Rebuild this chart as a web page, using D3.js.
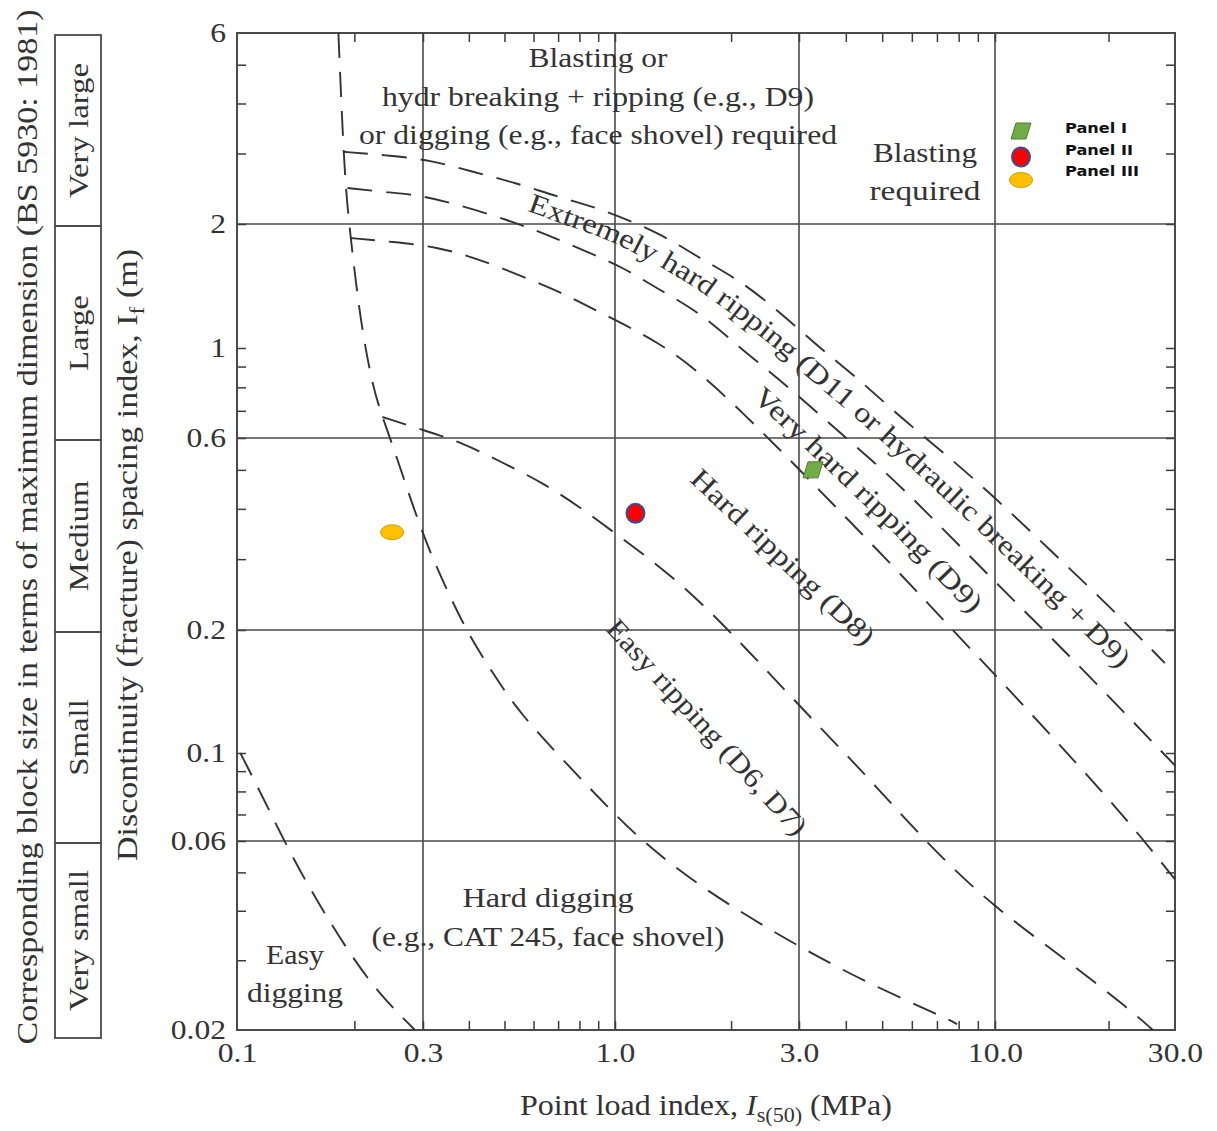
<!DOCTYPE html>
<html>
<head>
<meta charset="utf-8">
<script src="https://cdn.jsdelivr.net/npm/d3@7"></script>
<style>
  html, body { margin: 0; padding: 0; background: #fff; }
  svg { display: block; }
  .serif { font-family: "Liberation Serif", "DejaVu Serif", serif; fill: #333; }
</style>
</head>
<body>
<script>
// ---- Axis definitions -------------------------------------------------------
const xTickValues = [0.1, 0.3, 1, 3, 10, 30];
const xTickLabels = ["0.1", "0.3", "1.0", "3.0", "10.0", "30.0"];
const yTickValues = [6, 2, 1, 0.6, 0.2, 0.1, 0.06, 0.02];
const yTickLabels = ["6", "2", "1", "0.6", "0.2", "0.1", "0.06", "0.02"];
const xGridValues = [0.3, 1, 3, 10];
const yGridValues = [2, 0.6, 0.2, 0.06];

// Block size classes (BS 5930: 1981) and their spacing bounds (m)
const blockClasses = ["Very large", "Large", "Medium", "Small", "Very small"];
const blockBounds = [6, 2, 0.6, 0.2, 0.06, 0.02];

// ---- Boundary curves: [point load index (MPa), fracture spacing index (m)] --
const easyDiggingLimit = [[0.102,0.1],[0.116,0.078],[0.13,0.062],[0.149,0.048],[0.173,0.0375],[0.2,0.03],[0.233,0.0245],[0.286,0.02]];
const rippingLimit = [[0.182,6],[0.186,3.64],[0.19,2.43],[0.196,1.83],[0.207,1.17],[0.223,0.80],[0.236,0.676],[0.257,0.538],[0.283,0.404],[0.314,0.311],[0.355,0.242],[0.403,0.192],[0.471,0.154],[0.551,0.125],[0.722,0.096],[0.969,0.072],[1.18,0.0598],[1.66,0.0459],[2.79,0.0337],[4.55,0.0263],[7.27,0.0216],[7.92,0.0207]];
const hardRippingLimit = [[0.236,0.676],[0.30,0.628],[0.386,0.583],[0.496,0.52],[0.637,0.464],[0.803,0.404],[1.0,0.348],[1.49,0.262],[2.17,0.182],[3.09,0.127],[4.58,0.087],[6.71,0.058],[9.88,0.041],[15.5,0.030],[22.8,0.0225],[26.2,0.02]];
const veryHardRippingLimit = [[0.195,1.85],[0.251,1.81],[0.328,1.76],[0.421,1.65],[0.551,1.50],[0.708,1.37],[0.91,1.22],[1.31,1.03],[1.66,0.868],[2.11,0.703],[2.68,0.56],[3.07,0.491],[5.58,0.277],[7.59,0.203],[10.3,0.151],[14.0,0.111],[19.0,0.081],[24.2,0.062],[30,0.048]];
const extremeRippingLimit = [[0.192,2.46],[0.243,2.40],[0.295,2.36],[0.378,2.23],[0.508,2.05],[0.637,1.90],[0.818,1.73],[1.05,1.57],[1.31,1.38],[1.66,1.22],[2.11,1.0],[2.68,0.834],[3.41,0.684],[4.36,0.56],[5.58,0.459],[9.88,0.266],[15.5,0.176],[30,0.093]];
const blastingLimit = [[0.187,3.03],[0.243,2.97],[0.314,2.89],[0.41,2.70],[0.541,2.53],[0.695,2.34],[0.91,2.19],[1.31,1.90],[1.66,1.65],[2.11,1.46],[2.68,1.22],[3.41,1.0],[4.36,0.834],[5.58,0.676],[7.31,0.551],[9.70,0.438],[14.0,0.316],[20.2,0.228],[28.2,0.166]];

// ---- Measured panels ---------------------------------------------------------
const panelNames = ["Panel I", "Panel II", "Panel III"];
const panelIs50 = [3.27, 1.13, 0.25];
const panelIf = [0.50, 0.39, 0.35];

// ---- Scales ------------------------------------------------------------------
const W = 1217, H = 1131;
const x = d3.scaleLog().domain(xTickValues).range([237, 423, 615, 799, 995, 1175]);
const y = d3.scaleLog().domain(yTickValues).range([33, 224, 348, 438, 630, 753, 841, 1030]);
const x0 = x(0.1), x1 = x(30), y0 = y(6), y1 = y(0.02);

const svg = d3.select("body").append("svg").attr("width", W).attr("height", H);
svg.append("rect").attr("width", W).attr("height", H).attr("fill", "#fff");

const ink = "#3c3c3c";

// stretch a serif text horizontally so its face reads like a book serif
function widen(sel, factor) {
  sel.each(function () {
    const w = this.getComputedTextLength();
    d3.select(this).attr("textLength", w * factor).attr("lengthAdjust", "spacingAndGlyphs");
  });
}

// minor log ticks (k * 10^n) inside the frame
const minorX = [], minorY = [];
[0.1, 1, 10].forEach(d => d3.range(1, 10).forEach(k => {
  const v = +(k * d).toPrecision(3);
  if (v > 0.1 && v < 30) minorX.push(v);
}));
[0.01, 0.1, 1].forEach(d => d3.range(1, 10).forEach(k => {
  const v = +(k * d).toPrecision(3);
  if (v > 0.02 && v < 6) minorY.push(v);
}));

// ---- Grid -------------------------------------------------------------------
const grid = svg.append("g").attr("stroke", "#4a4a4a").attr("stroke-width", 1.6);
grid.selectAll(".gx").data(xGridValues).join("line")
  .attr("x1", d => x(d)).attr("x2", d => x(d)).attr("y1", y0).attr("y2", y1);
grid.selectAll(".gy").data(yGridValues).join("line")
  .attr("y1", d => y(d)).attr("y2", d => y(d)).attr("x1", x0).attr("x2", x1);

// inner ticks on all four sides
function innerTicks(axis, tx, ty) {
  const g = svg.append("g").attr("transform", `translate(${tx},${ty})`).call(axis);
  g.select(".domain").remove();
  g.selectAll("line").attr("stroke", ink).attr("stroke-width", 1.5);
}
innerTicks(d3.axisBottom(x).tickValues(minorX).tickSize(-9).tickFormat(""), 0, y1);
innerTicks(d3.axisTop(x).tickValues(minorX).tickSize(-9).tickFormat(""), 0, y0);
innerTicks(d3.axisLeft(y).tickValues(minorY).tickSize(-9).tickFormat(""), x0, 0);
innerTicks(d3.axisRight(y).tickValues(minorY).tickSize(-9).tickFormat(""), x1, 0);

// frame
svg.append("rect").attr("x", x0).attr("y", y0).attr("width", x1 - x0).attr("height", y1 - y0)
  .attr("fill", "none").attr("stroke", "#4a4a4a").attr("stroke-width", 2);

// tick labels
const yAxis = svg.append("g").attr("transform", `translate(${x0},0)`)
  .call(d3.axisLeft(y).tickValues(yTickValues).tickSize(0).tickPadding(11)
    .tickFormat((d, i) => yTickLabels[i]));
yAxis.select(".domain").remove();
yAxis.selectAll("text").attr("class", "serif").attr("font-size", 27).attr("fill", "#333").call(widen, 1.17);

const xAxis = svg.append("g").attr("transform", `translate(0,${y1})`)
  .call(d3.axisBottom(x).tickValues(xTickValues).tickSize(0).tickPadding(13)
    .tickFormat((d, i) => xTickLabels[i]));
xAxis.select(".domain").remove();
xAxis.selectAll("text").attr("class", "serif").attr("font-size", 27).attr("fill", "#333").call(widen, 1.17);

// ---- Boundary curves ---------------------------------------------------------
const line = d3.line().x(d => x(d[0])).y(d => y(d[1])).curve(d3.curveBasis);
const curves = [easyDiggingLimit, rippingLimit, hardRippingLimit, veryHardRippingLimit, extremeRippingLimit, blastingLimit];
svg.append("g").selectAll("path").data(curves).join("path")
  .attr("d", line).attr("fill", "none").attr("stroke", "#333").attr("stroke-width", 1.9)
  .attr("stroke-dasharray", "25,14");

// ---- Zone labels --------------------------------------------------------------
function serifText(lines, cx, cy, size, lens, lh) {
  lines.forEach((t, i) => {
    svg.append("text").attr("class", "serif").attr("font-size", size)
      .attr("x", cx).attr("y", cy + i * lh).attr("text-anchor", "middle")
      .attr("textLength", lens[i]).attr("lengthAdjust", "spacingAndGlyphs").text(t);
  });
}
serifText(["Blasting or", "hydr breaking + ripping (e.g., D9)", "or digging (e.g., face shovel) required"],
  598, 67, 28, [139, 432, 478], 38.5);
serifText(["Blasting", "required"], 925, 162, 28, [104, 111], 38);
serifText(["Hard digging", "(e.g., CAT 245, face shovel)"], 548, 907, 28, [171, 353], 39);
serifText(["Easy", "digging"], 295, 964, 28, [58, 96], 38);

// labels set along a guide path; a label may be split into runs on the same path
function pixelPts(data) { return data.map(d => [x(d[0]), y(d[1])]); }
function yAtX(pts, px) {
  for (let i = 0; i < pts.length - 1; i++) {
    if (px >= pts[i][0] && px <= pts[i + 1][0]) {
      const t = (px - pts[i][0]) / (pts[i + 1][0] - pts[i][0]);
      return pts[i][1] + t * (pts[i + 1][1] - pts[i][1]);
    }
  }
  return pts[pts.length - 1][1];
}
const guideLine = d3.line().curve(d3.curveBasis);
const measure = svg.append("text").attr("class", "serif").attr("font-size", 28).attr("opacity", 0);
function pathLabel(id, guide, runs) {
  const p = svg.append("path").attr("id", id).attr("d", guideLine(guide)).attr("fill", "none");
  const len = p.node().getTotalLength();
  const label = runs.join(" ");
  measure.text(label);
  const node = measure.node();
  const k = len / node.getComputedTextLength();
  let pos = 0;
  runs.forEach(run => {
    const w = node.getSubStringLength(pos, run.length);
    const off = pos > 0 ? node.getSubStringLength(0, pos) : 0;
    svg.append("text").attr("class", "serif").attr("font-size", 28)
      .append("textPath").attr("href", "#" + id)
      .attr("startOffset", off * k)
      .attr("dominant-baseline", "central")
      .attr("textLength", w * k).attr("lengthAdjust", "spacingAndGlyphs")
      .text(run);
    pos += run.length + 1;
  });
}
function bandGuide(upper, lower, pxStart, pxEnd, shift) {
  const a = pixelPts(upper), b = pixelPts(lower);
  return d3.range(pxStart, pxEnd + 0.1, 4).map(px => [px, (yAtX(a, px) + yAtX(b, px)) / 2 + shift]);
}
function straightGuide(cx, cy, angle, len) {
  const r = angle * Math.PI / 180, hx = Math.cos(r) * len / 2, hy = Math.sin(r) * len / 2;
  return [[cx - hx, cy - hy], [cx + hx, cy + hy]];
}
pathLabel("g-extreme", bandGuide(blastingLimit, extremeRippingLimit, 530, 1128, -6),
  ["Extremely hard ripping", "(D11 or hydraulic breaking + D9)"]);
pathLabel("g-veryhard", bandGuide(extremeRippingLimit, veryHardRippingLimit, 758, 980, -3),
  ["Very hard ripping (D9)"]);
pathLabel("g-hard", straightGuide(783, 557, 43.5, 242), ["Hard ripping (D8)"]);
pathLabel("g-easy", straightGuide(707, 727, 47.5, 282), ["Easy ripping (D6, D7)"]);
measure.remove();

// ---- Axis titles ---------------------------------------------------------------
const xt = svg.append("text").attr("class", "serif").attr("font-size", 29)
  .attr("x", 706).attr("y", 1115).attr("text-anchor", "middle")
  .attr("textLength", 372).attr("lengthAdjust", "spacingAndGlyphs");
xt.append("tspan").text("Point load index, ");
xt.append("tspan").attr("font-style", "italic").text("I");
xt.append("tspan").attr("font-size", 20).attr("dy", 7).text("s(50)");
xt.append("tspan").attr("dy", -7).text(" (MPa)");

const yt = svg.append("text").attr("class", "serif").attr("font-size", 29)
  .attr("transform", "translate(137,555) rotate(-90)").attr("text-anchor", "middle")
  .attr("textLength", 612).attr("lengthAdjust", "spacingAndGlyphs");
yt.append("tspan").text("Discontinuity (fracture) spacing index, I");
yt.append("tspan").attr("font-size", 20).attr("dy", 7).text("f");
yt.append("tspan").attr("dy", -7).text(" (m)");

svg.append("text").attr("class", "serif").attr("font-size", 29)
  .attr("transform", "translate(37,527) rotate(-90)").attr("text-anchor", "middle")
  .attr("textLength", 1035).attr("lengthAdjust", "spacingAndGlyphs")
  .text("Corresponding block size in terms of maximum dimension (BS 5930: 1981)");

// ---- Block size column ----------------------------------------------------------
const bx0 = 55, bx1 = 101;
const blocks = blockClasses.map((c, i) => ({ name: c, top: blockBounds[i], bottom: blockBounds[i + 1] }));
const bTop = d => y(d.top) + 2;
const bBottom = d => y(d.bottom) + (d.bottom === blockBounds[blockBounds.length - 1] ? 8 : 2);
const bg = svg.append("g");
bg.selectAll("rect").data(blocks).join("rect")
  .attr("x", bx0).attr("width", bx1 - bx0)
  .attr("y", bTop).attr("height", d => bBottom(d) - bTop(d))
  .attr("fill", "none").attr("stroke", "#4a4a4a").attr("stroke-width", 1.8);
bg.selectAll("text").data(blocks).join("text").attr("class", "serif").attr("font-size", 28)
  .attr("transform", d => `translate(${(bx0 + bx1) / 2},${(bTop(d) + bBottom(d)) / 2}) rotate(-90)`)
  .attr("text-anchor", "middle").attr("dominant-baseline", "central")
  .text(d => d.name)
  .call(widen, 1.17);

// ---- Panels and legend ---------------------------------------------------------
const paraPath = "M-5,-8 L10,-8 L5,8 L-10,8 Z";
const markers = [
  g => g.append("path").attr("d", paraPath).attr("fill", "#70AD47").attr("stroke", "#507E32").attr("stroke-width", 1),
  g => g.append("ellipse").attr("rx", 9).attr("ry", 9.5).attr("fill", "#FF0000").attr("stroke", "#2F4F9F").attr("stroke-width", 2),
  g => g.append("ellipse").attr("rx", 11.5).attr("ry", 7.5).attr("fill", "#FFC000").attr("stroke", "#C9A000").attr("stroke-width", 1)
];
panelNames.forEach((n, i) => {
  markers[i](svg.append("g").attr("transform", `translate(${x(panelIs50[i])},${y(panelIf[i])})`));
});

const legendY = [131, 157, 180];
const legendTextY = [133, 155, 176];
const legendTextLen = [62, 68, 74];
panelNames.forEach((n, i) => {
  markers[i](svg.append("g").attr("transform", `translate(1021,${legendY[i]})`));
  svg.append("text").attr("x", 1065).attr("y", legendTextY[i])
    .attr("font-family", "'DejaVu Sans', Verdana, sans-serif").attr("font-weight", "bold")
    .attr("font-size", 14).attr("fill", "#111")
    .attr("textLength", legendTextLen[i]).attr("lengthAdjust", "spacingAndGlyphs")
    .text(n);
});
</script>
</body>
</html>
